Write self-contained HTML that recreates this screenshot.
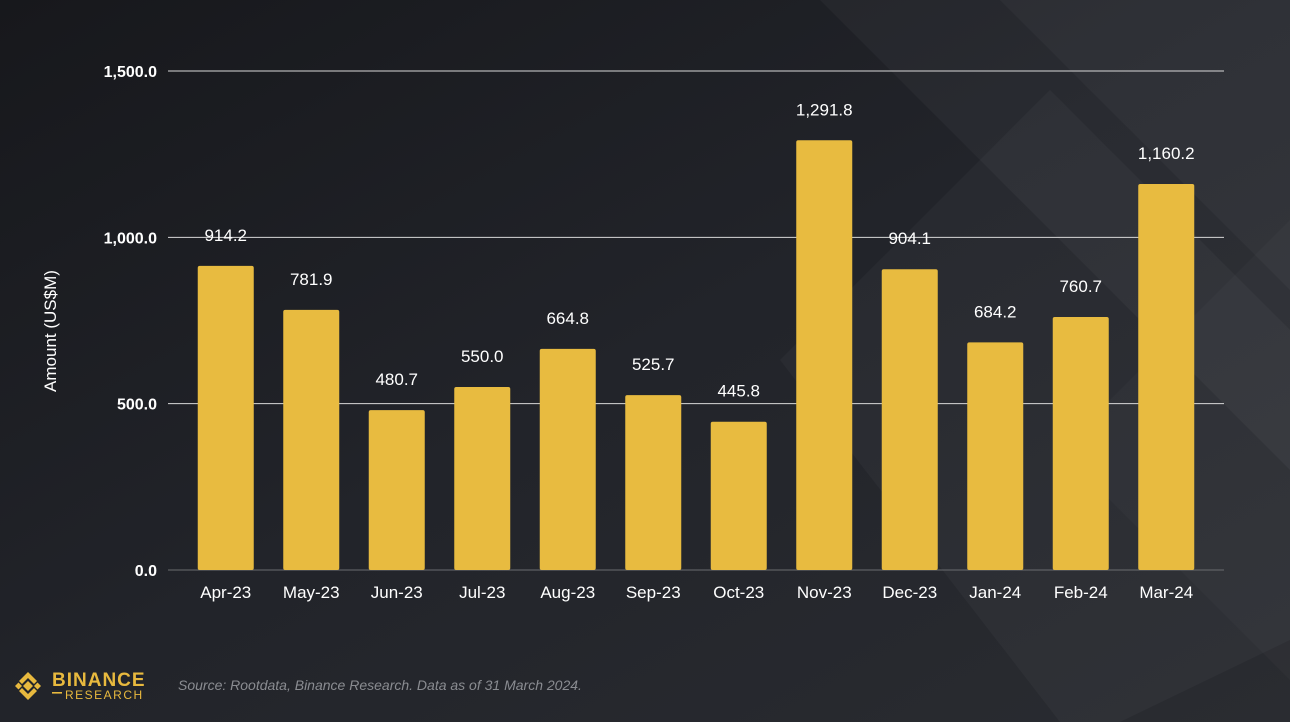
<!DOCTYPE html>
<html><head><meta charset="utf-8"><style>
html,body{margin:0;padding:0;}
body{width:1290px;height:722px;overflow:hidden;background:#23252a;font-family:"Liberation Sans",sans-serif;}
svg{display:block}
</style></head><body>
<svg id="chart" width="1290" height="722" xmlns="http://www.w3.org/2000/svg">
<defs>
<linearGradient id="bg" x1="0" y1="0" x2="1" y2="1">
<stop offset="0" stop-color="#17181c"/><stop offset="0.5" stop-color="#22242a"/><stop offset="1" stop-color="#2a2c31"/>
</linearGradient>
</defs>
<rect width="1290" height="722" fill="url(#bg)"/>
<g fill="#ffffff">
<polygon points="820,0 1290,0 1290,470" opacity="0.035"/>
<polygon points="1000,0 1290,290 1290,0" opacity="0.03"/>
<polygon points="780,360 1050,90 1290,330 1290,640 1120,722 1060,722" opacity="0.03"/>
<polygon points="1060,450 1290,220 1290,680" opacity="0.025"/>
</g>
<g id="grid"></g>
<g id="bars"></g>
<g id="labels"></g>
<g id="xticks"></g>
<g id="yticks"></g>
<text transform="translate(56,331) rotate(-90)" text-anchor="middle" fill="#ffffff" font-size="17">Amount (US$M)</text>
<g fill="#e8b93e">
<polygon points="28,681 33,686 28,691 23,686"/>
<polygon points="15,686 18.5,682.5 22,686 18.5,689.5"/>
<polygon points="34,686 37.5,682.5 41,686 37.5,689.5"/>
<polygon points="28,672 37,681 34,684 28,678 22,684 19,681"/>
<polygon points="28,700 37,691 34,688 28,694 22,688 19,691"/>
<text x="52" y="686" font-size="19" font-weight="bold" letter-spacing="1">BINANCE</text>
<rect x="52" y="692" width="10" height="1.6"/>
<text x="65" y="699" font-size="12" letter-spacing="1.5">RESEARCH</text>
</g>
<text x="178" y="690" fill="#8a8c91" font-size="14" font-style="italic">Source: Rootdata, Binance Research. Data as of 31 March 2024.</text>
</svg>
<script>
const categories=["Apr-23","May-23","Jun-23","Jul-23","Aug-23","Sep-23","Oct-23","Nov-23","Dec-23","Jan-24","Feb-24","Mar-24"];
const values=[914.2,781.9,480.7,550.0,664.8,525.7,445.8,1291.8,904.1,684.2,760.7,1160.2];
const yTicks=[0,500,1000,1500];
const NS="http://www.w3.org/2000/svg";
const y0=570,yTop=71,yMax=1500;
function yScale(v){return y0-(v/yMax)*(y0-yTop);}
const left=183,step=85.5,barW=56;
function xScale(i){return left+step*(i+0.5);}
function fmt(v){return v.toLocaleString("en-US",{minimumFractionDigits:1,maximumFractionDigits:1});}
function mk(tag,attrs,parent){const e=document.createElementNS(NS,tag);for(const k in attrs)e.setAttribute(k,attrs[k]);parent.appendChild(e);return e;}
const grid=document.getElementById("grid"),yt=document.getElementById("yticks");
yTicks.forEach(t=>{
 const l=mk("line",{x1:168,x2:1224,y1:yScale(t),y2:yScale(t),stroke:t===0?"#6a6c70":"#d8d8d8","stroke-width":1},grid);
 
 
 const tx=mk("text",{x:157,y:yScale(t)+6,"text-anchor":"end",fill:"#ffffff","font-size":16,"font-weight":"bold"},yt);
 tx.textContent=fmt(t);
 
 
});
const bars=document.getElementById("bars"),lab=document.getElementById("labels"),xt=document.getElementById("xticks");
values.forEach((v,i)=>{
 const cx=xScale(i),y=yScale(v);
 const r=mk("rect",{x:cx-barW/2,y:y,width:barW,height:y0-y,fill:"#e8bb40",rx:2},bars);
 
 
 const t=mk("text",{x:cx,y:y-25,"text-anchor":"middle",fill:"#ffffff","font-size":17},lab);
 t.textContent=fmt(v);
 
 
 const c=mk("text",{x:cx,y:598,"text-anchor":"middle",fill:"#ffffff","font-size":17},xt);
 c.textContent=categories[i];
 
 
});
</script>
</body></html>
